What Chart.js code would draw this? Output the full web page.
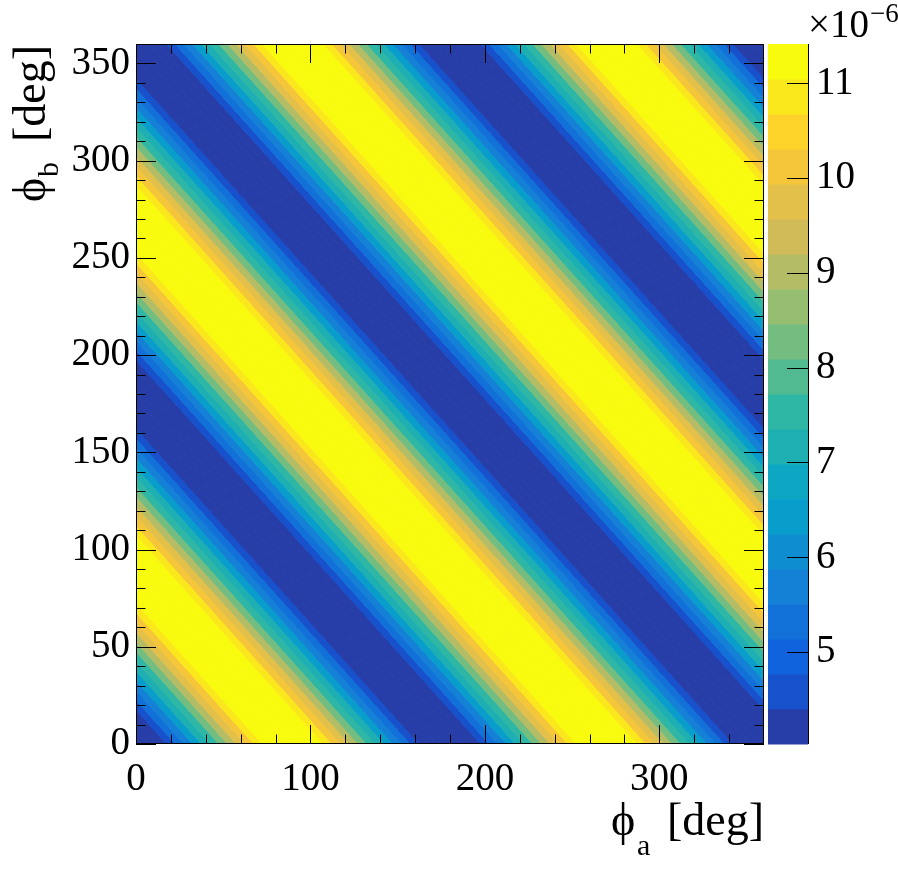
<!DOCTYPE html>
<html>
<head>
<meta charset="utf-8">
<script src="https://cdn.jsdelivr.net/npm/chart.js@4.4.0/dist/chart.umd.min.js"></script>
<style>
  html, body { margin: 0; padding: 0; background: #fff; }
  #wrap { width: 898px; height: 875px; }
</style>
</head>
<body>
<div id="wrap"><canvas id="chart" width="898" height="875"></canvas></div>
<script>
const sumDeg = [
  0, 5, 10, 15, 20, 25, 30, 35, 40, 45, 50, 55, 60, 65, 70, 75, 80, 85,
  90, 95, 100, 105, 110, 115, 120, 125, 130, 135, 140, 145, 150, 155, 160, 165, 170, 175,
  180, 185, 190, 195, 200, 205, 210, 215, 220, 225, 230, 235, 240, 245, 250, 255, 260, 265,
  270, 275, 280, 285, 290, 295, 300, 305, 310, 315, 320, 325, 330, 335, 340, 345, 350, 355,
  360, 365, 370, 375, 380, 385, 390, 395, 400, 405, 410, 415, 420, 425, 430, 435, 440, 445,
  450, 455, 460, 465, 470, 475, 480, 485, 490, 495, 500, 505, 510, 515, 520, 525, 530, 535,
  540, 545, 550, 555, 560, 565, 570, 575, 580, 585, 590, 595, 600, 605, 610, 615, 620, 625,
  630, 635, 640, 645, 650, 655, 660, 665, 670, 675, 680, 685, 690, 695, 700, 705, 710, 715,
  720
];
const zValue = [
  4.03, 4.06, 4.16, 4.38, 4.74, 5.22, 5.78, 6.40, 7.05, 7.72, 8.39, 9.04, 9.66, 10.22, 10.70, 11.08, 11.29, 11.39,
  11.41, 11.39, 11.29, 11.08, 10.70, 10.22, 9.66, 9.04, 8.39, 7.72, 7.05, 6.40, 5.78, 5.22, 4.74, 4.38, 4.16, 4.06,
  4.03, 4.06, 4.16, 4.38, 4.74, 5.22, 5.78, 6.40, 7.05, 7.72, 8.39, 9.04, 9.66, 10.22, 10.70, 11.08, 11.29, 11.39,
  11.41, 11.39, 11.29, 11.08, 10.70, 10.22, 9.66, 9.04, 8.39, 7.72, 7.05, 6.40, 5.78, 5.22, 4.74, 4.38, 4.16, 4.06,
  4.03, 4.06, 4.16, 4.38, 4.74, 5.22, 5.78, 6.40, 7.05, 7.72, 8.39, 9.04, 9.66, 10.22, 10.70, 11.08, 11.29, 11.39,
  11.41, 11.39, 11.29, 11.08, 10.70, 10.22, 9.66, 9.04, 8.39, 7.72, 7.05, 6.40, 5.78, 5.22, 4.74, 4.38, 4.16, 4.06,
  4.03, 4.06, 4.16, 4.38, 4.74, 5.22, 5.78, 6.40, 7.05, 7.72, 8.39, 9.04, 9.66, 10.22, 10.70, 11.08, 11.29, 11.39,
  11.41, 11.39, 11.29, 11.08, 10.70, 10.22, 9.66, 9.04, 8.39, 7.72, 7.05, 6.40, 5.78, 5.22, 4.74, 4.38, 4.16, 4.06,
  4.03
];

// axes
const xMajor = [0, 100, 200, 300];
const xMinor = [20, 40, 60, 80, 120, 140, 160, 180, 220, 240, 260, 280, 320, 340];
const yMajor = [0, 50, 100, 150, 200, 250, 300, 350];
const yMinor = [10, 20, 30, 40, 60, 70, 80, 90, 110, 120, 130, 140, 160, 170, 180, 190,
                210, 220, 230, 240, 260, 270, 280, 290, 310, 320, 330, 340];
const zMajor = [5, 6, 7, 8, 9, 10, 11];
const zRange = [4.03, 11.415];
const nLevels = 20;

// ROOT kBird palette
const birdStops = [0, 0.125, 0.25, 0.375, 0.5, 0.625, 0.75, 0.875, 1];
const birdR = [0.2082, 0.0592, 0.0780, 0.0232, 0.1802, 0.5301, 0.8186, 0.9956, 0.9764];
const birdG = [0.1664, 0.3599, 0.5041, 0.6419, 0.7178, 0.7492, 0.7328, 0.7862, 0.9832];
const birdB = [0.5293, 0.8684, 0.8385, 0.7914, 0.6425, 0.4662, 0.3499, 0.1968, 0.0539];

function birdColor(p) {
    let i = 0;
    while (i < birdStops.length - 2 && p > birdStops[i + 1]) i++;
    const t = (p - birdStops[i]) / (birdStops[i + 1] - birdStops[i]);
    const c = arr => Math.round(255 * (arr[i] + t * (arr[i + 1] - arr[i])));
    return 'rgb(' + c(birdR) + ',' + c(birdG) + ',' + c(birdB) + ')';
}

function levelColor(k) {
    const idx = Math.floor((k + 0.99) * 255 / nLevels);
    return birdColor(Math.min(idx, 254) / 254);
}

function levelOf(v) {
    const k = Math.floor((v - zRange[0]) / (zRange[1] - zRange[0]) * nLevels);
    return Math.max(0, Math.min(nLevels - 1, k));
}

// clip polygon by half plane f(p) >= 0
function clipPoly(pts, f) {
    const out = [];
    for (let i = 0; i < pts.length; i++) {
        const a = pts[i], b = pts[(i + 1) % pts.length];
        const fa = f(a), fb = f(b);
        if (fa >= 0) out.push(a);
        if ((fa >= 0) !== (fb >= 0)) {
            const t = fa / (fa - fb);
            out.push([a[0] + t * (b[0] - a[0]), a[1] + t * (b[1] - a[1])]);
        }
    }
    return out;
}

const mapPlugin = {
    id: 'mapPlugin',
    beforeDatasetsDraw(chart) {
        const { ctx, chartArea: a, scales: { x, y, z } } = chart;
        const square = [[x.min, y.min], [x.max, y.min], [x.max, y.max], [x.min, y.max]];

        ctx.save();
        ctx.beginPath();
        ctx.rect(a.left, a.top, a.right - a.left, a.bottom - a.top);
        ctx.clip();
        for (let k = 0; k < sumDeg.length; k++) {
            const lo = k > 0 ? (sumDeg[k - 1] + sumDeg[k]) / 2 : sumDeg[k] - 1;
            const hi = k < sumDeg.length - 1 ? (sumDeg[k] + sumDeg[k + 1]) / 2 : sumDeg[k] + 1;
            let poly = clipPoly(square, p => p[0] + p[1] - lo);
            poly = clipPoly(poly, p => hi - p[0] - p[1]);
            if (poly.length < 3) continue;
            const col = levelColor(levelOf(zValue[k]));
            ctx.fillStyle = col;
            ctx.strokeStyle = col;
            ctx.lineWidth = 1;
            ctx.beginPath();
            poly.forEach((p, i) => {
                const px = x.getPixelForValue(p[0]), py = y.getPixelForValue(p[1]);
                if (i === 0) ctx.moveTo(px, py); else ctx.lineTo(px, py);
            });
            ctx.closePath();
            ctx.fill();
            ctx.stroke();
        }
        ctx.restore();

        // colour bar
        const cbLeft = a.right + 4, cbRight = a.right + 44;
        const step = (zRange[1] - zRange[0]) / nLevels;
        for (let k = 0; k < nLevels; k++) {
            const y0 = z.getPixelForValue(zRange[0] + k * step);
            const y1 = z.getPixelForValue(zRange[0] + (k + 1) * step);
            ctx.fillStyle = levelColor(k);
            ctx.fillRect(cbLeft, y1, cbRight - cbLeft, y0 - y1 + 0.5);
        }
        ctx.strokeStyle = '#000';
        ctx.lineWidth = 1;
        ctx.beginPath();
        ctx.moveTo(cbRight + 0.5, a.top);
        ctx.lineTo(cbRight + 0.5, a.bottom);
        zMajor.forEach(v => {
            const py = Math.round(z.getPixelForValue(v)) + 0.5;
            ctx.moveTo(cbRight, py);
            ctx.lineTo(cbRight - 21, py);
        });
        ctx.stroke();
    },
    afterDatasetsDraw(chart) {
        const { ctx, chartArea: a, scales: { x, y } } = chart;
        ctx.save();
        ctx.strokeStyle = '#000';
        ctx.lineWidth = 1;
        ctx.beginPath();
        ctx.rect(a.left + 0.5, a.top + 0.5, a.right - a.left - 1, a.bottom - a.top - 1);
        // ticks on all four sides, pointing inwards
        const xt = (v, len) => {
            const px = Math.round(x.getPixelForValue(v)) + 0.5;
            ctx.moveTo(px, a.bottom); ctx.lineTo(px, a.bottom - len);
            ctx.moveTo(px, a.top); ctx.lineTo(px, a.top + len);
        };
        const yt = (v, len) => {
            const py = Math.round(y.getPixelForValue(v)) + 0.5;
            ctx.moveTo(a.left, py); ctx.lineTo(a.left + len, py);
            ctx.moveTo(a.right, py); ctx.lineTo(a.right - len, py);
        };
        xMajor.forEach(v => xt(v, 19));
        xMinor.forEach(v => xt(v, 9.5));
        yMajor.forEach(v => yt(v, 20));
        yMinor.forEach(v => yt(v, 9.5));
        ctx.stroke();
        ctx.restore();
    },
    afterDraw(chart) {
        const { ctx } = chart;
        const serif = "'Liberation Serif', 'DejaVu Serif', serif";
        ctx.save();
        ctx.fillStyle = '#000';
        ctx.textBaseline = 'alphabetic';

        // x title
        ctx.textAlign = 'right';
        ctx.font = '46px ' + serif;
        ctx.fillText('[deg]', 764, 835);
        ctx.textAlign = 'left';
        ctx.font = '30px ' + serif;
        ctx.fillText('a', 637, 855);
        ctx.font = '46px ' + serif;
        ctx.fillText('\u03D5', 611, 835);

        // y title
        ctx.save();
        ctx.translate(45, 202);
        ctx.rotate(-Math.PI / 2);
        ctx.font = '46px ' + serif;
        ctx.textAlign = 'left';
        ctx.fillText('\u03D5', 0, 0);
        ctx.font = '30px ' + serif;
        ctx.fillText('b', 25, 13);
        ctx.font = '46px ' + serif;
        ctx.textAlign = 'right';
        ctx.fillText('[deg]', 157, 0);
        ctx.restore();

        // colour bar exponent
        ctx.textAlign = 'left';
        ctx.font = '39px ' + serif;
        ctx.fillText('\u00D710', 808, 37);
        ctx.font = '27px ' + serif;
        ctx.fillText('\u22126', 870, 22);
        ctx.restore();
    }
};

Chart.defaults.font.family = "'Liberation Serif', 'Times New Roman', serif";
Chart.defaults.color = '#000';

const tickFont = { size: 39 };

new Chart(document.getElementById('chart'), {
    type: 'scatter',
    data: { datasets: [] },
    options: {
        responsive: false,
        animation: false,
        events: [],
        layout: { padding: { top: 44, left: 0, right: 0, bottom: 0 } },
        plugins: { legend: { display: false }, tooltip: { enabled: false } },
        scales: {
            x: {
                type: 'linear', position: 'bottom', min: 0, max: 360,
                afterBuildTicks: s => { s.ticks = xMajor.map(v => ({ value: v })); },
                afterFit: s => { s.height = 131; s.paddingLeft = 0; s.paddingRight = 0; },
                grid: { display: false, drawTicks: false },
                border: { display: false },
                ticks: { color: '#000', padding: 12, maxRotation: 0, autoSkip: false, font: tickFont }
            },
            y: {
                type: 'linear', position: 'left', min: 0, max: 360,
                afterBuildTicks: s => { s.ticks = yMajor.map(v => ({ value: v })); },
                afterFit: s => { s.width = 136; s.paddingTop = 0; s.paddingBottom = 0; },
                grid: { display: false, drawTicks: false },
                border: { display: false },
                ticks: { color: '#000', padding: 6, autoSkip: false, font: tickFont }
            },
            z: {
                type: 'linear', axis: 'y', position: 'right', min: zRange[0], max: zRange[1],
                afterBuildTicks: s => { s.ticks = zMajor.map(v => ({ value: v })); },
                afterFit: s => { s.width = 134; s.paddingTop = 0; s.paddingBottom = 0; },
                grid: { display: false, drawTicks: false },
                border: { display: false },
                ticks: { color: '#000', padding: 52, autoSkip: false, font: tickFont }
            }
        }
    },
    plugins: [mapPlugin]
});
</script>
</body>
</html>
